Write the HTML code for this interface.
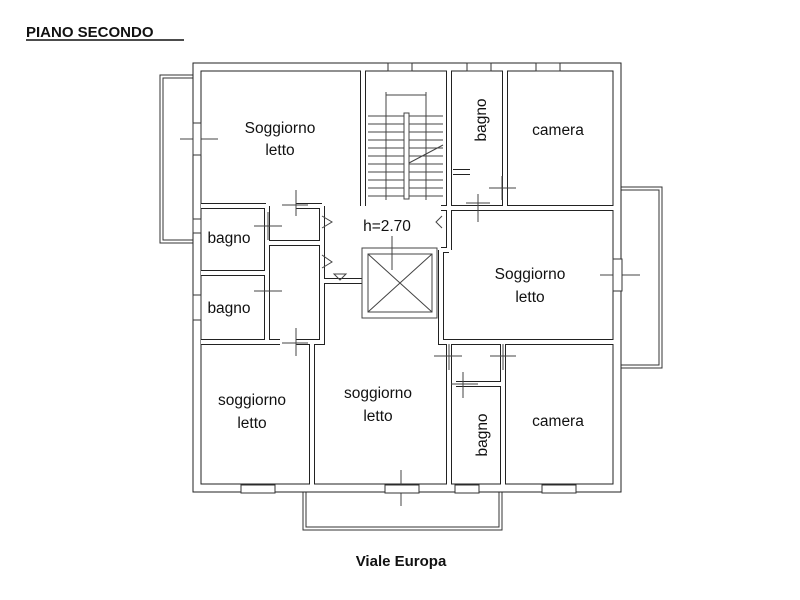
<!DOCTYPE html>
<html><head><meta charset="utf-8"><style>
html,body{margin:0;padding:0;background:#fff;width:800px;height:600px;overflow:hidden}
svg{display:block}
text{font-family:"Liberation Sans",Arial,sans-serif;fill:#111}
</style></head><body>
<svg width="800" height="600" viewBox="0 0 800 600" xmlns="http://www.w3.org/2000/svg">
<defs>
<path id="outer" d="M197 67 H617 V488 H197 Z"/>
<path id="inner" d="
M201 206 H266 M296 206 H322
M363 70 V206
M449 70 V206
M322 206 V281 H362
M267 243 H322
M267 206 V340
M201 273 H267
M201 342 H280 M296 342 H312 V486
M322 281 V342 H312
M441 208 H614
M441 250 V342 H614
M449 250 H441
M449 206 V250
M505 70 V208
M453 172 H470
M449 342 V486
M503 342 V486
M456 384 H503
"/>
</defs>
<rect width="800" height="600" fill="#fff"/>
<text x="26" y="37" font-size="15" font-weight="bold">PIANO SECONDO</text>
<line x1="26" y1="40" x2="184" y2="40" stroke="#111" stroke-width="1.5"/>
<g fill="none" stroke="#333" stroke-width="1">
<rect x="160" y="75" width="33" height="168"/><rect x="163" y="78" width="30" height="162"/>
<rect x="621" y="187" width="41" height="181"/><rect x="621" y="190" width="38" height="175"/>
<rect x="303" y="492" width="199" height="38"/><rect x="306" y="492" width="193" height="35"/>
</g>
<use href="#outer" fill="none" stroke="#222" stroke-width="9"/>
<use href="#inner" fill="none" stroke="#222" stroke-width="6"/>
<use href="#outer" fill="none" stroke="#fff" stroke-width="7"/>
<use href="#inner" fill="none" stroke="#fff" stroke-width="4"/>
<g stroke="#444" stroke-width="1" fill="none">
<path d="M368 116 H443 M368 124 H443 M368 132 H443 M368 140 H443 M368 148 H443 M368 156 H443 M368 164 H443 M368 172 H443 M368 180 H443 M368 188 H443 M368 196 H443"/>
<path d="M386 92 V200 M426 92 V200 M386 95 H426"/>
<rect x="404" y="113" width="5" height="86" fill="#fff"/>
<path d="M409 163 L443 145"/>
<rect x="362" y="248" width="75" height="70"/><rect x="368" y="254" width="64" height="58"/>
<path d="M368 254 L432 312 M432 254 L368 312"/>
<path d="M392 236 V270"/>
<path d="M322 216 L332 222 L322 228 M322 255 L332 262 L322 268 M334 274 L346 274 L340 280 Z M442 216 L436 222 L442 228"/>
<path d="M180 139 H218 M197 125 V153"/>
<path d="M254 226 H282 M268 212 V240"/>
<path d="M296 190 V216 M282 205 H308"/>
<path d="M254 291 H282"/>
<path d="M296 328 V356 M282 343 H308"/>
<path d="M489 188 H516 M502 176 V200"/>
<path d="M478 194 V222 M466 203 H490"/>
<path d="M600 275 H640"/>
<path d="M434 356 H462 M449 344 V370"/>
<path d="M490 356 H516 M503 344 V370"/>
<path d="M463 372 V398 M451 384 H478"/>
<path d="M401 470 V506"/>
</g>
<g fill="#fff" stroke="#333" stroke-width="1">
<rect x="388" y="63" width="24" height="8"/>
<rect x="467" y="63" width="24" height="8"/>
<rect x="536" y="63" width="24" height="8"/>
<rect x="193" y="123" width="8" height="32"/>
<rect x="193" y="219" width="8" height="14"/>
<rect x="193" y="295" width="8" height="25"/>
<rect x="613" y="259" width="9" height="32"/>
<rect x="241" y="485" width="34" height="8"/>
<rect x="385" y="485" width="34" height="8"/>
<rect x="455" y="485" width="24" height="8"/>
<rect x="542" y="485" width="34" height="8"/>
</g>
<g font-size="15.5" text-anchor="middle">
<text x="280" y="133">Soggiorno</text><text x="280" y="155">letto</text>
<text x="229" y="243">bagno</text>
<text x="229" y="313">bagno</text>
<text x="387" y="231">h=2.70</text>
<text x="558" y="135">camera</text>
<text x="530" y="279">Soggiorno</text><text x="530" y="302">letto</text>
<text x="252" y="405">soggiorno</text><text x="252" y="428">letto</text>
<text x="378" y="398">soggiorno</text><text x="378" y="421">letto</text>
<text x="558" y="426">camera</text>
<text transform="translate(486,120) rotate(-90)">bagno</text>
<text transform="translate(487,435) rotate(-90)">bagno</text>
</g>
<text x="401" y="566" font-size="15" text-anchor="middle" font-weight="bold">Viale Europa</text>
</svg>
</body></html>
